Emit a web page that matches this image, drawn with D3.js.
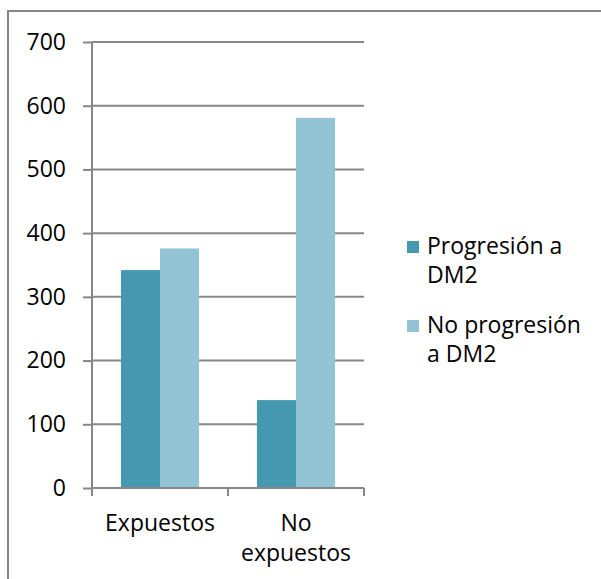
<!DOCTYPE html>
<html>
<head>
<meta charset="utf-8">
<script src="https://cdn.jsdelivr.net/npm/d3@7"></script>
<style>
  html, body { margin: 0; padding: 0; background: #fff; }
  svg { display: block; }
  text { font-family: "Open Sans", sans-serif; fill: #000; }
</style>
</head>
<body>
<svg id="chart" width="601" height="579"></svg>
<script>
// Categories and series
const categories = ["Expuestos", "No expuestos"];
const seriesNames = ["Progresión a DM2", "No progresión a DM2"];
const progresion = [342, 138];
const noProgresion = [376, 581];
const yTicks = [0, 100, 200, 300, 400, 500, 600, 700];
const legendLines = [["Progresión a", "DM2"], ["No progresión", "a DM2"]];
const categoryLines = [["Expuestos"], ["No", "expuestos"]];

const colors = ["#4499b1", "#93c4d6"];
const gridColor = "#878787";
const fontSize = 23;

const svg = d3.select("#chart");

// Outer chart frame
svg.append("rect")
  .attr("x", 8).attr("y", 11)
  .attr("width", 640).attr("height", 620)
  .attr("fill", "none")
  .attr("stroke", gridColor)
  .attr("stroke-width", 2);

const plot = { left: 92, right: 364, top: 42, bottom: 488 };

// Category bands for the bar groups
const x = d3.scaleBand()
  .domain(categories)
  .range([plot.left, plot.right])
  .paddingInner(0.426)
  .paddingOuter(0.213);

// Full-width category bands for ticks and labels
const x0 = d3.scaleBand().domain(categories).range([plot.left, plot.right]);

const xs = d3.scaleBand()
  .domain(seriesNames)
  .range([0, x.bandwidth()]);

const y = d3.scaleLinear().domain([0, 700]).range([plot.bottom, plot.top]);

// Horizontal gridlines
svg.append("g")
  .selectAll("line")
  .data(yTicks)
  .join("line")
  .attr("x1", plot.left).attr("x2", plot.right)
  .attr("y1", d => y(d)).attr("y2", d => y(d))
  .attr("stroke", gridColor).attr("stroke-width", 2);

// Bars
const rows = categories.map((c, i) => ({ cat: c, values: [progresion[i], noProgresion[i]] }));
svg.append("g")
  .selectAll("g")
  .data(rows)
  .join("g")
  .attr("transform", d => `translate(${x(d.cat)},0)`)
  .selectAll("rect")
  .data(d => d.values.map((v, j) => ({ v, s: seriesNames[j], j })))
  .join("rect")
  .attr("x", d => xs(d.s))
  .attr("width", xs.bandwidth())
  .attr("y", d => y(d.v))
  .attr("height", d => y(0) - y(d.v))
  .attr("fill", d => colors[d.j]);

// Y axis
const yAxis = d3.axisLeft(y).tickValues(yTicks).tickSize(9).tickPadding(17);
const gy = svg.append("g").attr("transform", `translate(${plot.left},0)`).call(yAxis);
gy.select(".domain").attr("stroke", gridColor).attr("stroke-width", 2)
  .attr("d", `M0,${plot.top}V${plot.bottom + 7}`);
gy.selectAll(".tick line").attr("stroke", gridColor).attr("stroke-width", 2);
gy.selectAll(".tick text")
  .attr("font-family", "Open Sans, sans-serif")
  .attr("font-size", fontSize)
  .attr("fill", "#000");

// X axis
const gx = svg.append("g").attr("transform", `translate(0,${plot.bottom})`);
gx.append("line")
  .attr("x1", plot.left).attr("x2", plot.right)
  .attr("stroke", gridColor).attr("stroke-width", 2);
const xEdges = [plot.left, ...categories.map(c => x0(c) + x0.bandwidth())];
gx.selectAll(".xt")
  .data(xEdges)
  .join("line")
  .attr("class", "xt")
  .attr("x1", d => d).attr("x2", d => d)
  .attr("y1", 0).attr("y2", 8)
  .attr("stroke", gridColor).attr("stroke-width", 2);

svg.append("g")
  .selectAll("text")
  .data(categories)
  .join("text")
  .attr("text-anchor", "middle")
  .attr("font-size", fontSize)
  .attr("x", d => x0(d) + x0.bandwidth() / 2)
  .attr("y", 531)
  .selectAll("tspan")
  .data((d, i) => categoryLines[i])
  .join("tspan")
  .attr("x", function () { return d3.select(this.parentNode).attr("x"); })
  .attr("dy", (d, i) => i === 0 ? 0 : 30)
  .text(d => d);

// Legend
const legend = svg.append("g");
const legendBaselines = [254, 333];
seriesNames.forEach((s, i) => {
  legend.append("rect")
    .attr("x", 407).attr("y", legendBaselines[i] - 13)
    .attr("width", 12).attr("height", 12)
    .attr("fill", colors[i]);
  legend.append("text")
    .attr("x", 427).attr("y", legendBaselines[i])
    .attr("font-size", fontSize)
    .selectAll("tspan")
    .data(legendLines[i])
    .join("tspan")
    .attr("x", 427)
    .attr("dy", (d, k) => k === 0 ? 0 : 29)
    .text(d => d);
});
</script>
</body>
</html>
